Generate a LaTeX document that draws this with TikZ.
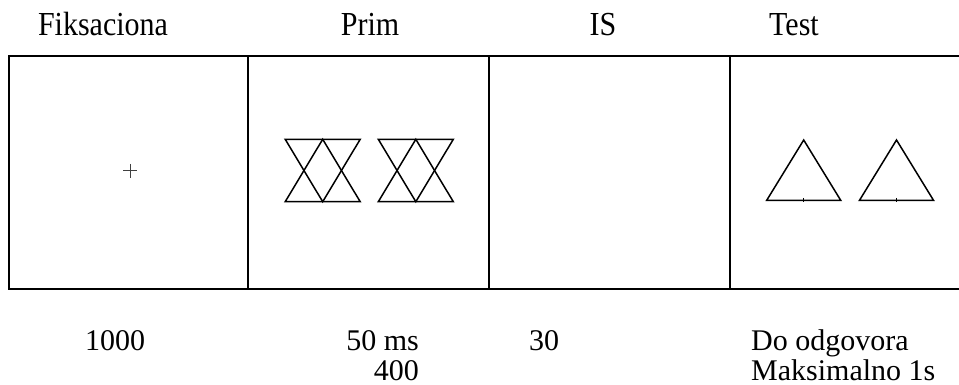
\documentclass[tikz,border=0pt]{standalone}
\usepackage{fontspec}
\setmainfont{Liberation Serif}
\usetikzlibrary{positioning}

\begin{document}
\begin{tikzpicture}[
  x=1pt, y=-1pt,
  frame/.style={line width=2pt},
  fig/.style={line width=1.5pt, line join=miter},
  lbl/.style={inner sep=0pt, anchor=base, font=\fontsize{30}{33}\selectfont},
  lblw/.style={lbl, anchor=base west},
  lble/.style={lbl, anchor=base east}
]
  \useasboundingbox (0,0) rectangle (959,385);

  % titles
  \node[lbl] (tfix)  at (103,36) {\scalebox{1}[1.12]{Fiksaciona}};
  \node[lbl] (tprim) at (370,36) {\scalebox{1}[1.12]{Prim}};
  \node[lbl] (tis)   at (603,36) {\scalebox{1}[1.12]{IS}};
  \node[lbl] (ttest) at (794,36) {\scalebox{1}[1.12]{Test}};

  % frames
  \draw[frame] (962,56) -- (9,56) -- (9,289) -- (962,289);
  \foreach \x in {248,489,730}
    \draw[frame] (\x,56) -- (\x,289);

  % fixation cross
  \draw[line width=1pt, black!75] (123,171) -- (137,171) (130,164) -- (130,178);

  % prime: two overlapping triangles
  \foreach \cx in {322.7,415.8} {
    \draw[fig] (\cx-37.5,201.7) -- (\cx,139.3) -- (\cx+37.5,201.7) -- cycle;
    \draw[fig] (\cx-37.5,139.3) -- (\cx,201.7) -- (\cx+37.5,139.3) -- cycle;
  }

  % test triangles
  \foreach \cx in {803.7,896.5} {
    \draw[fig] (\cx-37,200.3) -- (\cx,140) -- (\cx+37,200.3) -- cycle;
    \draw[line width=0.6pt] (\cx,198) -- (\cx,202);
  }

  % durations
  \node[lblw] (dfix)   at (85,350)  {1000};
  \node[lble] (dprim)  at (419,350) {50 ms};
  \node[lble] (dprim2) at (419,380) {400};
  \node[lblw] (dis)    at (529,350) {30};
  \node[lblw] (dtest)  at (751,350) {Do odgovora};
  \node[lblw] (dtest2) at (751,380) {Maksimalno 1s};
\end{tikzpicture}
\end{document}
